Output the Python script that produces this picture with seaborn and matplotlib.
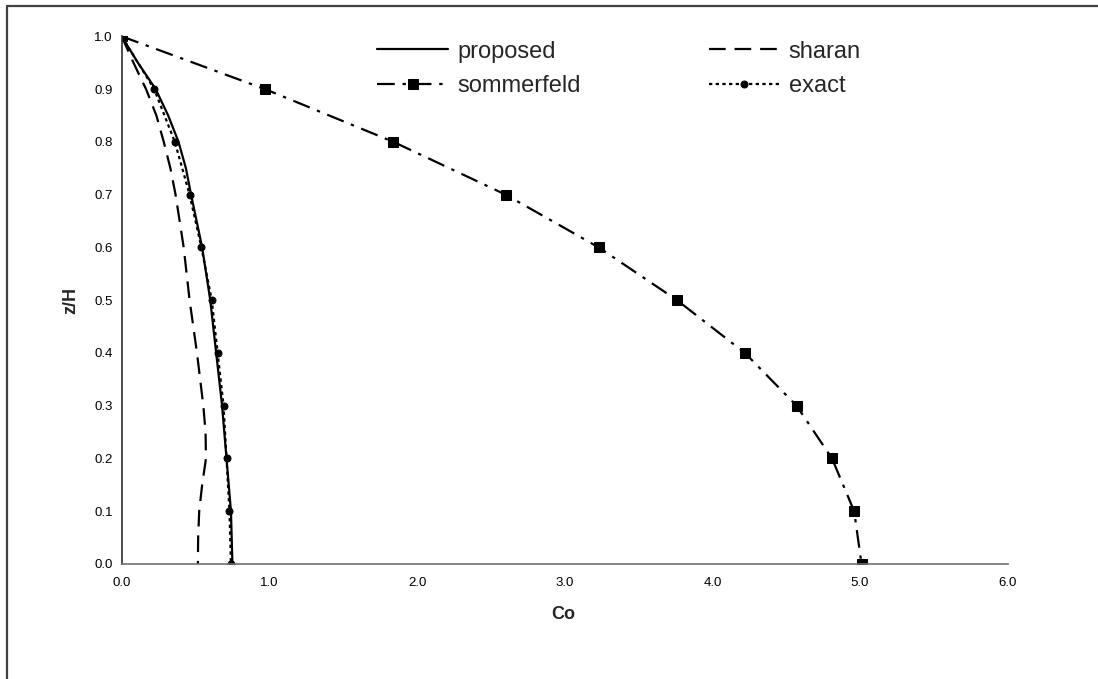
import numpy as np
import matplotlib
matplotlib.use("Agg")
import matplotlib.pyplot as plt
import seaborn as sns
from matplotlib.lines import Line2D

# values (Co against z/H)
zh = [1.0, 0.9, 0.8, 0.7, 0.6, 0.5, 0.4, 0.3, 0.2, 0.1, 0.0]
sommerfeld = [0.0, 0.97, 1.84, 2.60, 3.23, 3.76, 4.22, 4.57, 4.81, 4.96, 5.01]
exact = [0.0, 0.22, 0.36, 0.46, 0.54, 0.61, 0.65, 0.69, 0.71, 0.73, 0.74]

zh_fine = [1.0, 0.95, 0.9, 0.85, 0.8, 0.75, 0.7, 0.6, 0.5, 0.4, 0.3, 0.25, 0.2, 0.15, 0.1, 0.05, 0.0]
proposed = [0.0, 0.11, 0.23, 0.315, 0.385, 0.435, 0.47, 0.545, 0.60, 0.64, 0.68, 0.695, 0.71, 0.725, 0.74, 0.745, 0.75]
sharan = [0.0, 0.08, 0.165, 0.235, 0.285, 0.33, 0.365, 0.42, 0.46, 0.51, 0.553, 0.568, 0.571, 0.545, 0.525, 0.518, 0.516]

x_ticks = [0, 1, 2, 3, 4, 5, 6]
y_ticks = [0.0, 0.1, 0.2, 0.3, 0.4, 0.5, 0.6, 0.7, 0.8, 0.9, 1.0]

sns.set_style("white")
plt.rcParams['font.family'] = ['Liberation Sans', 'DejaVu Sans']

fig = plt.figure(figsize=(10.98, 6.79), dpi=100)
ax = fig.add_axes([0.1108, 0.1694, 0.8070, 0.7771])

kw = dict(sort=False, estimator=None, ax=ax, color='black', linewidth=1.6)

sns.lineplot(x=proposed, y=zh_fine, label='proposed', **kw)
sns.lineplot(x=sommerfeld, y=zh, label='sommerfeld', marker='s', markersize=7,
             markeredgecolor='black', markerfacecolor='black', **kw)
ax.lines[-1].set_dashes([8, 3.5, 1.5, 3.5])
sns.lineplot(x=sharan, y=zh_fine, label='sharan', **kw)
ax.lines[-1].set_dashes([7.5, 4])
sns.lineplot(x=exact, y=zh, label='exact', marker='o', markersize=5,
             markeredgecolor='black', markerfacecolor='black', **kw)
ax.lines[-1].set_dashes([1.5, 1.5])

ax.set_xlim(0, 6)
ax.set_ylim(0, 1)
ax.set_xticks(x_ticks)
ax.set_yticks(y_ticks)
ax.set_xticklabels([f'{t:.1f}' for t in x_ticks])
ax.set_yticklabels([f'{t:.1f}' for t in y_ticks])
ax.tick_params(axis='both', direction='out', length=3, width=1, labelsize=9.5,
               colors='black')
ax.tick_params(axis='x', pad=6.5, color='#707070')
ax.tick_params(axis='y', pad=3.5, color='#303030')
ax.grid(False)

for side in ['top', 'right']:
    ax.spines[side].set_visible(False)
ax.spines['left'].set_color('#303030')
ax.spines['bottom'].set_color('#707070')
ax.spines['left'].set_linewidth(1.2)
ax.spines['bottom'].set_linewidth(1.2)

ax.set_xlabel('Co', fontsize=13, fontweight='bold')
ax.set_ylabel('z/H', fontsize=13, fontweight='bold')
ax.xaxis.label.set_va('center')
ax.yaxis.label.set_va('center')
ax.xaxis.set_label_coords(0.498, -0.095)
ax.yaxis.set_label_coords(-0.058, 0.5)

ax.legend(ncol=2, frameon=False, fontsize=17, loc='upper left',
          bbox_to_anchor=(0.335, 0.954), bbox_transform=fig.transFigure,
          handlelength=3.0, handletextpad=0.4, columnspacing=5.4,
          labelspacing=0.54, borderaxespad=0)

# chart area border (only top and left edges are in the picture)
fig.add_artist(Line2D([7 / 1098, 1.0], [1 - 6 / 679, 1 - 6 / 679],
                      transform=fig.transFigure, color='#404040', linewidth=1.6))
fig.add_artist(Line2D([7 / 1098, 7 / 1098], [0.0, 1 - 6 / 679],
                      transform=fig.transFigure, color='#404040', linewidth=1.6))

fig.savefig('out.png', dpi=100)
